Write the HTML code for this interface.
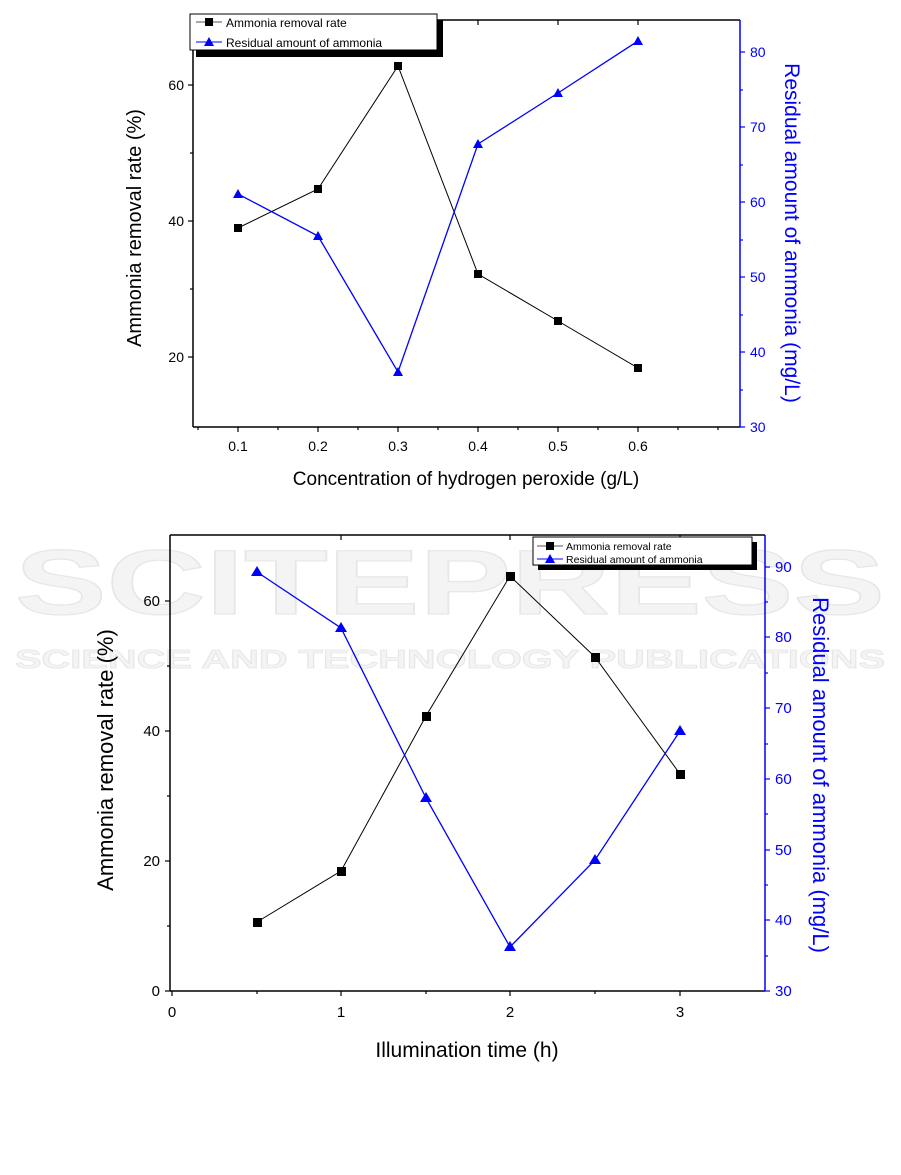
<!DOCTYPE html>
<html><head><meta charset="utf-8"><style>
body{margin:0;background:#fff;}
svg{display:block;font-family:"Liberation Sans",sans-serif;}
</style></head><body>
<svg width="901" height="1175" viewBox="0 0 901 1175" xmlns="http://www.w3.org/2000/svg">
<!-- watermark -->
<text x="450" y="614" text-anchor="middle" font-size="92" font-weight="bold" fill="#f4f4f4" stroke="#e6e6e6" stroke-width="1.2" textLength="870" lengthAdjust="spacingAndGlyphs">SCITEPRESS</text>
<text x="450" y="668" text-anchor="middle" font-size="26" font-weight="bold" fill="#f4f4f4" stroke="#e6e6e6" stroke-width="0.8" textLength="870" lengthAdjust="spacingAndGlyphs">SCIENCE AND TECHNOLOGY PUBLICATIONS</text>

<!-- TOP CHART -->
<g stroke-width="1.5" fill="none">
<line x1="193" y1="20" x2="740" y2="20" stroke="#000"/>
<line x1="193" y1="20" x2="193" y2="427" stroke="#000"/>
<line x1="193" y1="427" x2="740" y2="427" stroke="#000"/>
<line x1="740" y1="20" x2="740" y2="427" stroke="#00f"/>
</g>
<g stroke="#000" stroke-width="1.2">
<line x1="188" y1="85" x2="193" y2="85"/><line x1="188" y1="221" x2="193" y2="221"/><line x1="188" y1="357" x2="193" y2="357"/>
<line x1="190" y1="153" x2="193" y2="153"/><line x1="190" y1="289" x2="193" y2="289"/>
<line x1="238" y1="427" x2="238" y2="432"/><line x1="318" y1="427" x2="318" y2="432"/><line x1="398" y1="427" x2="398" y2="432"/><line x1="478" y1="427" x2="478" y2="432"/><line x1="558" y1="427" x2="558" y2="432"/><line x1="638" y1="427" x2="638" y2="432"/>
<line x1="198" y1="427" x2="198" y2="430"/><line x1="278" y1="427" x2="278" y2="430"/><line x1="358" y1="427" x2="358" y2="430"/><line x1="438" y1="427" x2="438" y2="430"/><line x1="518" y1="427" x2="518" y2="430"/><line x1="598" y1="427" x2="598" y2="430"/><line x1="678" y1="427" x2="678" y2="430"/><line x1="718" y1="427" x2="718" y2="430"/>
<line x1="238" y1="20" x2="238" y2="25"/><line x1="318" y1="20" x2="318" y2="25"/><line x1="398" y1="20" x2="398" y2="25"/><line x1="478" y1="20" x2="478" y2="25"/><line x1="558" y1="20" x2="558" y2="25"/><line x1="638" y1="20" x2="638" y2="25"/>
</g>
<g stroke="#00f" stroke-width="1.2">
<line x1="740" y1="52" x2="745" y2="52"/><line x1="740" y1="127" x2="745" y2="127"/><line x1="740" y1="202" x2="745" y2="202"/><line x1="740" y1="277" x2="745" y2="277"/><line x1="740" y1="352" x2="745" y2="352"/><line x1="740" y1="427" x2="745" y2="427"/>
<line x1="740" y1="90" x2="743" y2="90"/><line x1="740" y1="165" x2="743" y2="165"/><line x1="740" y1="240" x2="743" y2="240"/><line x1="740" y1="315" x2="743" y2="315"/><line x1="740" y1="390" x2="743" y2="390"/>
</g>
<g font-size="14" fill="#000" text-anchor="end">
<text x="184" y="90">60</text><text x="184" y="226">40</text><text x="184" y="362">20</text>
</g>
<g font-size="14" fill="#000" text-anchor="middle">
<text x="238" y="451">0.1</text><text x="318" y="451">0.2</text><text x="398" y="451">0.3</text><text x="478" y="451">0.4</text><text x="558" y="451">0.5</text><text x="638" y="451">0.6</text>
</g>
<g font-size="14" fill="#00f">
<text x="750" y="57">80</text><text x="750" y="132">70</text><text x="750" y="207">60</text><text x="750" y="282">50</text><text x="750" y="357">40</text><text x="750" y="432">30</text>
</g>
<text x="466" y="485" font-size="19" text-anchor="middle">Concentration of hydrogen peroxide (g/L)</text>
<text transform="translate(141,228) rotate(-90)" font-size="20" text-anchor="middle">Ammonia removal rate (%)</text>
<text transform="translate(785,233) rotate(90)" font-size="21" text-anchor="middle" fill="#00f">Residual amount of ammonia (mg/L)</text>
<polyline points="238,228 318,189 398,66 478,274 558,321 638,368" fill="none" stroke="#000" stroke-width="1"/>
<g fill="#000">
<rect x="234" y="224" width="8" height="8"/><rect x="314" y="185" width="8" height="8"/><rect x="394" y="62" width="8" height="8"/><rect x="474" y="270" width="8" height="8"/><rect x="554" y="317" width="8" height="8"/><rect x="634" y="364" width="8" height="8"/>
</g>
<polyline points="238,194 318,236 398,372 478,144 558,93 638,41" fill="none" stroke="#00f" stroke-width="1.3"/>
<g fill="#00f">
<path d="M238,189 l5,9 h-10z"/><path d="M318,231 l5,9 h-10z"/><path d="M398,367 l5,9 h-10z"/><path d="M478,139 l5,9 h-10z"/><path d="M558,88 l5,9 h-10z"/><path d="M638,36 l5,9 h-10z"/>
</g>
<rect x="196" y="20" width="247" height="37" fill="#000"/>
<rect x="190" y="14" width="247" height="36" fill="#fff" stroke="#000" stroke-width="1"/>
<line x1="196" y1="22" x2="222" y2="22" stroke="#555"/><rect x="205" y="18" width="8" height="8" fill="#000"/>
<text x="226" y="27" font-size="12">Ammonia removal rate</text>
<line x1="196" y1="42" x2="222" y2="42" stroke="#00f"/><path d="M209,37 l5,9 h-10z" fill="#00f"/>
<text x="226" y="47" font-size="12">Residual amount of ammonia</text>

<!-- BOTTOM CHART -->
<g stroke-width="1.5" fill="none">
<line x1="170" y1="535" x2="765" y2="535" stroke="#000"/>
<line x1="170" y1="535" x2="170" y2="991" stroke="#000"/>
<line x1="170" y1="991" x2="765" y2="991" stroke="#000"/>
<line x1="765" y1="535" x2="765" y2="991" stroke="#00f"/>
</g>
<g stroke="#000" stroke-width="1.2">
<line x1="165" y1="601" x2="170" y2="601"/><line x1="165" y1="731" x2="170" y2="731"/><line x1="165" y1="861" x2="170" y2="861"/><line x1="165" y1="991" x2="170" y2="991"/>
<line x1="167" y1="666" x2="170" y2="666"/><line x1="167" y1="796" x2="170" y2="796"/><line x1="167" y1="926" x2="170" y2="926"/>
<line x1="172" y1="991" x2="172" y2="996"/><line x1="341" y1="991" x2="341" y2="996"/><line x1="510" y1="991" x2="510" y2="996"/><line x1="680" y1="991" x2="680" y2="996"/>
<line x1="257" y1="991" x2="257" y2="994"/><line x1="426" y1="991" x2="426" y2="994"/><line x1="595" y1="991" x2="595" y2="994"/>
<line x1="341" y1="535" x2="341" y2="540"/><line x1="510" y1="535" x2="510" y2="540"/><line x1="680" y1="535" x2="680" y2="540"/>
</g>
<g stroke="#00f" stroke-width="1.2">
<line x1="765" y1="567" x2="770" y2="567"/><line x1="765" y1="637" x2="770" y2="637"/><line x1="765" y1="708" x2="770" y2="708"/><line x1="765" y1="779" x2="770" y2="779"/><line x1="765" y1="850" x2="770" y2="850"/><line x1="765" y1="920" x2="770" y2="920"/><line x1="765" y1="991" x2="770" y2="991"/>
<line x1="765" y1="602" x2="768" y2="602"/><line x1="765" y1="673" x2="768" y2="673"/><line x1="765" y1="744" x2="768" y2="744"/><line x1="765" y1="814" x2="768" y2="814"/><line x1="765" y1="885" x2="768" y2="885"/><line x1="765" y1="956" x2="768" y2="956"/>
</g>
<g font-size="15" fill="#000" text-anchor="end">
<text x="160" y="606">60</text><text x="160" y="736">40</text><text x="160" y="866">20</text><text x="160" y="996">0</text>
</g>
<g font-size="15" fill="#000" text-anchor="middle">
<text x="172" y="1017">0</text><text x="341" y="1017">1</text><text x="510" y="1017">2</text><text x="680" y="1017">3</text>
</g>
<g font-size="15" fill="#00f">
<text x="775" y="572">90</text><text x="775" y="642">80</text><text x="775" y="713">70</text><text x="775" y="784">60</text><text x="775" y="855">50</text><text x="775" y="925">40</text><text x="775" y="996">30</text>
</g>
<text x="467" y="1057" font-size="21" text-anchor="middle">Illumination time (h)</text>
<text transform="translate(113,760) rotate(-90)" font-size="22" text-anchor="middle">Ammonia removal rate (%)</text>
<text transform="translate(813,775) rotate(90)" font-size="22" text-anchor="middle" fill="#00f">Residual amount of ammonia (mg/L)</text>
<polyline points="257,922 341,871 426,716 510,576 595,657 680,774" fill="none" stroke="#000" stroke-width="1"/>
<g fill="#000">
<rect x="253" y="918" width="9" height="9"/><rect x="337" y="867" width="9" height="9"/><rect x="422" y="712" width="9" height="9"/><rect x="506" y="572" width="9" height="9"/><rect x="591" y="653" width="9" height="9"/><rect x="676" y="770" width="9" height="9"/>
</g>
<polyline points="257,572 341,628 426,798 510,947 595,860 680,731" fill="none" stroke="#00f" stroke-width="1.3"/>
<g fill="#00f">
<path d="M257,566 l6,10 h-12z"/><path d="M341,622 l6,10 h-12z"/><path d="M426,792 l6,10 h-12z"/><path d="M510,941 l6,10 h-12z"/><path d="M595,854 l6,10 h-12z"/><path d="M680,725 l6,10 h-12z"/>
</g>
<rect x="538" y="542" width="219" height="28" fill="#000"/>
<rect x="533" y="537" width="219" height="28" fill="#fff" stroke="#000" stroke-width="1"/>
<line x1="537" y1="546" x2="563" y2="546" stroke="#555"/><rect x="546" y="542" width="8" height="8" fill="#000"/>
<text x="566" y="550" font-size="10.5">Ammonia removal rate</text>
<line x1="537" y1="559" x2="563" y2="559" stroke="#00f"/><path d="M550,554 l5,9 h-10z" fill="#00f"/>
<text x="566" y="563" font-size="10.5">Residual amount of ammonia</text>
</svg>
</body></html>
